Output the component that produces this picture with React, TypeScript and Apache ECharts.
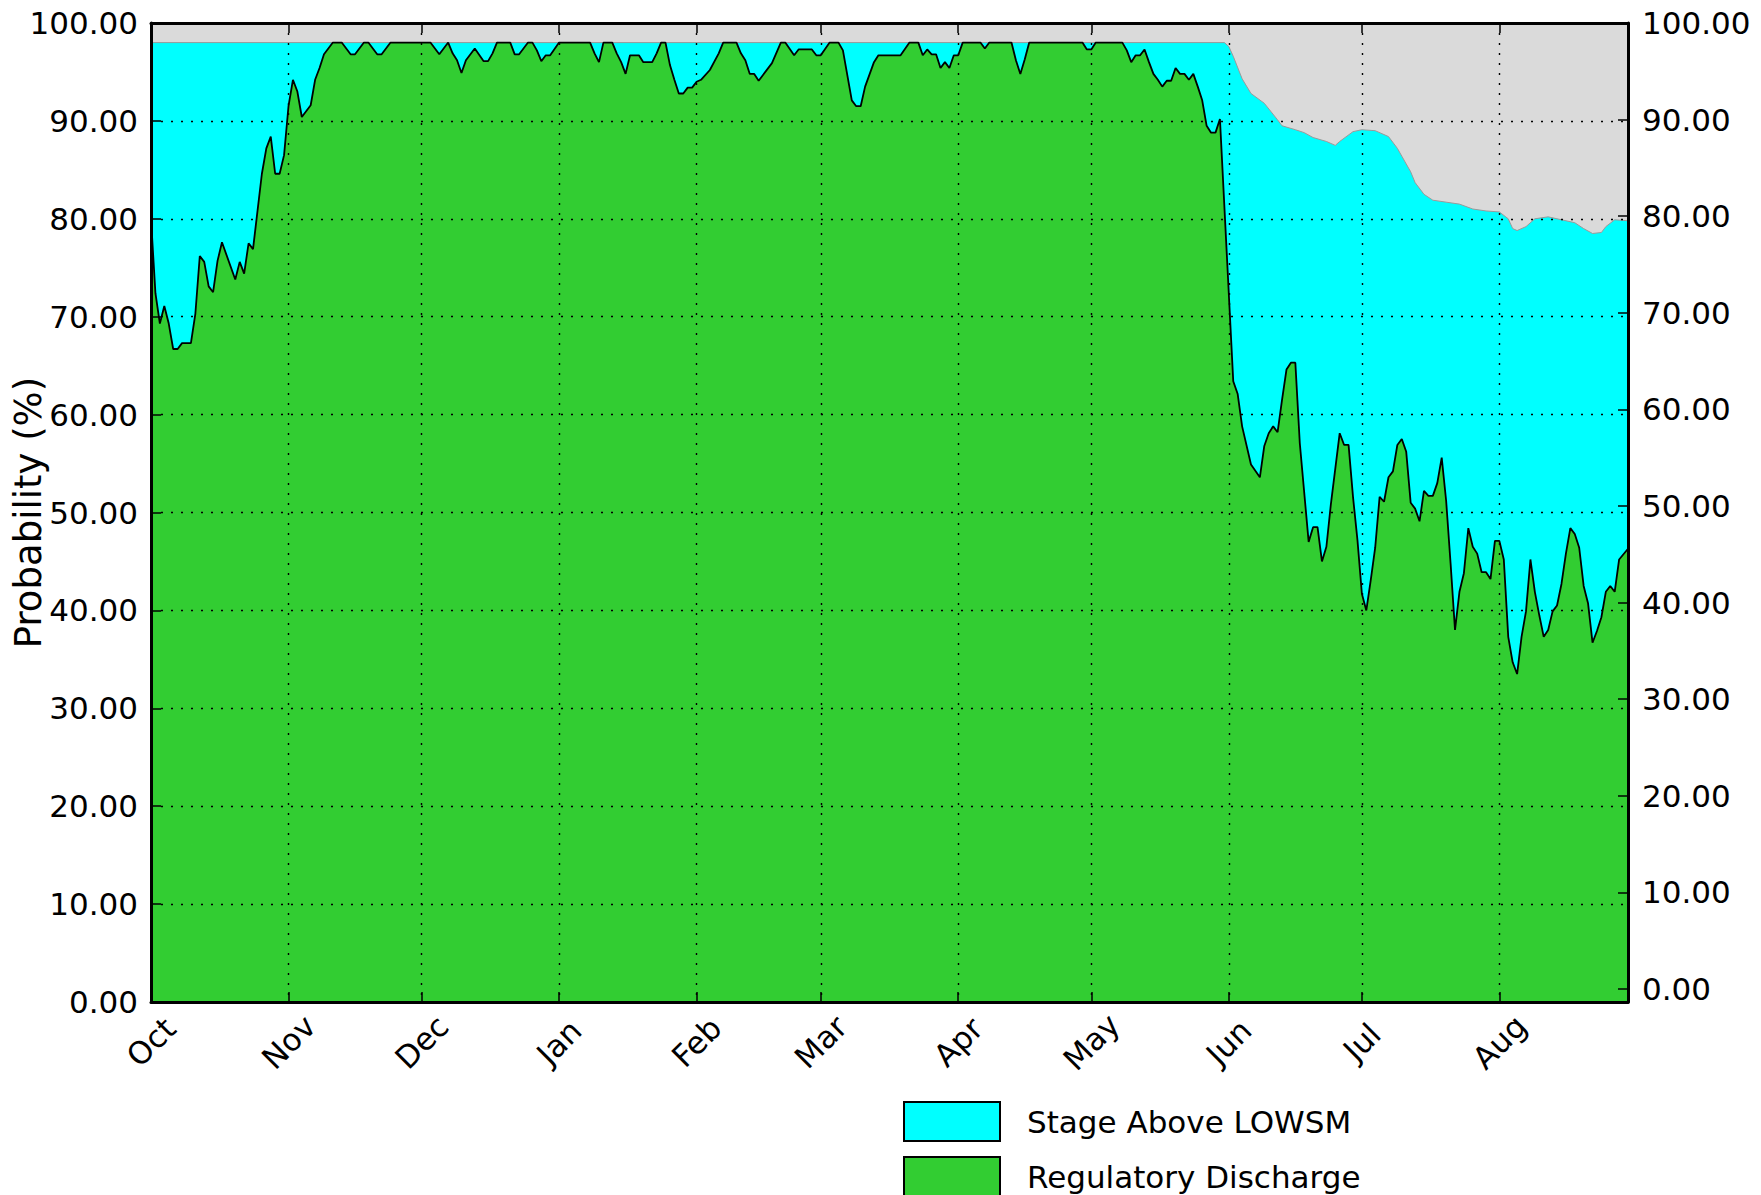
import React, { useEffect, useRef } from 'react';
import * as echarts from 'echarts';

// Month labels on the x axis and their day offsets from Oct 1
const monthLabels = ['Oct', 'Nov', 'Dec', 'Jan', 'Feb', 'Mar', 'Apr', 'May', 'Jun', 'Jul', 'Aug'];
const monthStartDays = [0, 31, 61, 92, 123, 151, 182, 212, 243, 273, 304];
const firstDay = 0;
const lastDay = 333;

// Probability tick values (both y axes)
const probabilityTicks = [0, 10, 20, 30, 40, 50, 60, 70, 80, 90, 100];

// Stage Above LOWSM: [day since Oct 1, probability %]
const stageAboveLowsm: [number, number][] = [
  [0, 98], [242, 98], [243, 97.6], [244, 96.6], [246, 94.3], [248, 92.8], [251, 91.8],
  [254, 90.1], [255, 89.5], [258, 89.1], [260, 88.8], [262, 88.3], [265, 87.9], [267, 87.5],
  [268, 87.9], [271, 88.9], [273, 89.1], [276, 89.0], [279, 88.4], [281, 87.2], [282, 86.4],
  [284, 84.8], [285, 83.7], [287, 82.5], [289, 81.9], [292, 81.7], [295, 81.5], [298, 81.0],
  [301, 80.8], [304, 80.7], [306, 80.0], [307, 79.0], [308, 78.8], [310, 79.2], [312, 80.0],
  [315, 80.2], [318, 79.9], [321, 79.6], [323, 79.0], [325, 78.5], [327, 78.6], [328, 79.2],
  [330, 79.9], [333, 79.8],
];

// Regulatory Discharge: [day since Oct 1, probability %]
const regulatoryDischarge: [number, number][] = [
  [0, 80], [1, 72.4], [2, 69.3], [3, 71.1], [4, 69.3], [5, 66.7], [6, 66.7], [7, 67.3], [9, 67.3],
  [10, 70.3], [11, 76.2], [12, 75.6], [13, 73.1], [14, 72.5], [15, 75.7], [16, 77.6], [19, 73.8],
  [20, 75.6], [21, 74.4], [22, 77.5], [23, 76.9], [25, 84.6], [26, 87.2], [27, 88.4], [28, 84.6],
  [29, 84.6], [30, 86.5], [31, 91.5], [32, 94.2], [33, 93.0], [34, 90.4], [36, 91.6], [37, 94.2],
  [38, 95.4], [39, 96.8], [41, 98], [43, 98], [45, 96.8], [46, 96.8], [48, 98], [49, 98],
  [51, 96.8], [52, 96.8], [54, 98], [63, 98], [65, 96.8], [67, 98], [68, 96.9], [69, 96.2],
  [70, 94.9], [71, 96.2], [73, 97.4], [75, 96.1], [76, 96.1], [77, 96.9], [78, 98], [81, 98],
  [82, 96.8], [83, 96.8], [85, 98], [86, 98], [87, 97.2], [88, 96.1], [89, 96.7], [90, 96.7],
  [92, 98], [99, 98], [100, 96.9], [101, 96.0], [102, 98], [104, 98], [105, 96.9], [106, 96.0],
  [107, 94.8], [108, 96.7], [110, 96.7], [111, 96.0], [113, 96.0], [114, 96.9], [115, 98],
  [116, 98], [117, 95.7], [118, 94.2], [119, 92.8], [120, 92.8], [121, 93.4], [122, 93.4],
  [123, 94.0], [124, 94.2], [126, 95.2], [128, 96.9], [129, 98], [132, 98], [133, 96.9],
  [134, 96.2], [135, 94.8], [136, 94.8], [137, 94.1], [140, 95.9], [142, 98], [143, 98],
  [145, 96.7], [146, 97.3], [149, 97.3], [150, 96.7], [151, 96.7], [153, 98], [155, 98],
  [156, 97.2], [158, 92.1], [159, 91.5], [160, 91.5], [161, 93.5], [163, 96.0], [164, 96.7],
  [169, 96.7], [171, 98], [173, 98], [174, 96.7], [175, 97.3], [176, 96.8], [177, 96.8],
  [178, 95.4], [179, 96.0], [180, 95.4], [181, 96.7], [182, 96.7], [183, 98], [187, 98],
  [188, 97.4], [189, 98], [194, 98], [195, 96.2], [196, 94.8], [197, 96.3], [198, 98],
  [210, 98], [211, 97.3], [212, 97.3], [213, 98], [219, 98], [220, 97.2], [221, 96.0],
  [222, 96.7], [223, 96.7], [224, 97.3], [225, 96.0], [226, 94.8], [227, 94.2], [228, 93.5],
  [229, 94.1], [230, 94.1], [231, 95.4], [232, 94.8], [233, 94.8], [234, 94.2], [235, 94.8],
  [236, 93.5], [237, 92.1], [238, 89.5], [239, 88.8], [240, 88.8], [241, 90.2], [244, 63.4],
  [245, 62.1], [246, 58.8], [248, 54.9], [250, 53.6], [251, 56.8], [252, 58.1], [253, 58.8],
  [254, 58.2], [255, 61.5], [256, 64.6], [257, 65.3], [258, 65.3], [259, 57.1], [261, 47.0],
  [262, 48.5], [263, 48.5], [264, 45.0], [265, 46.5], [266, 50.8], [268, 58.1], [269, 56.9],
  [270, 56.9], [271, 51.6], [272, 47.2], [273, 41.7], [274, 40.0], [275, 43.1], [276, 46.4],
  [277, 51.6], [278, 51.1], [279, 53.6], [280, 54.2], [281, 56.9], [282, 57.5], [283, 56.2],
  [284, 51.0], [285, 50.4], [286, 49.1], [287, 52.2], [288, 51.7], [289, 51.7], [290, 53.0],
  [291, 55.6], [292, 51.2], [293, 44.8], [294, 38.0], [295, 41.9], [296, 43.8], [297, 48.4],
  [298, 46.5], [299, 45.8], [300, 43.9], [301, 43.9], [302, 43.2], [303, 47.1], [304, 47.1],
  [305, 45.2], [306, 37.3], [307, 34.7], [308, 33.5], [309, 37.3], [310, 39.9], [311, 45.2],
  [312, 41.9], [313, 39.5], [314, 37.3], [315, 38.0], [316, 39.9], [317, 40.5], [318, 42.7],
  [319, 45.8], [320, 48.4], [321, 47.8], [322, 46.4], [323, 42.5], [324, 40.7], [325, 36.7],
  [326, 37.9], [327, 39.3], [328, 41.9], [329, 42.5], [330, 41.9], [331, 45.2], [333, 46.3],
];

const FONT = 'DejaVu Sans';
const CYAN = '#00ffff';
const GREEN = '#32cd32';
const GREY_BG = '#dadada';

export default function App() {
  const ref = useRef<HTMLDivElement>(null);

  useEffect(() => {
    if (!ref.current) return;
    const chart = echarts.init(ref.current, null, { renderer: 'svg' });

    const axisLine = { show: true, onZero: false, lineStyle: { color: '#000', width: 3 } };
    const tickStyle = { color: '#000', width: 1.5 };
    const gridLine = { show: true, lineStyle: { color: '#000', width: 1.4, type: [2, 8] } };
    const fmt = (v: number) => Number(v).toFixed(2);

    chart.setOption({
      animation: false,
      textStyle: { fontFamily: FONT },
      grid: {
        left: 151, right: 133, top: 23, bottom: 193,
        containLabel: false,
        outerBoundsMode: 'none',
        show: true, backgroundColor: GREY_BG, borderWidth: 0,
      },
      legend: {
        orient: 'vertical',
        left: 903,
        top: 1101,
        width: 700,
        height: 400,
        padding: 0,
        itemWidth: 96,
        itemHeight: 39,
        itemGap: 14,
        icon: 'rect',
        selectedMode: false,
        textStyle: { fontFamily: FONT, fontSize: 31, color: '#000', padding: [0, 0, 0, 22] },
        data: [
          { name: 'Stage Above LOWSM', icon: 'rect', itemStyle: { color: CYAN, borderColor: '#000', borderWidth: 2 } },
          { name: 'Regulatory Discharge', icon: 'rect', itemStyle: { color: GREEN, borderColor: '#000', borderWidth: 2 } },
        ],
      },
      xAxis: [
        {
          type: 'value', position: 'bottom', min: firstDay, max: lastDay, z: 10,
          axisLine,
          axisTick: { show: true, inside: true, length: 10, customValues: monthStartDays, lineStyle: tickStyle },
          axisLabel: {
            customValues: monthStartDays,
            formatter: (v: number) => monthLabels[monthStartDays.indexOf(Math.round(v))] ?? '',
            rotate: 45, align: 'center', verticalAlign: 'middle', margin: 40,
            fontFamily: FONT, fontSize: 31, color: '#000',
          },
          splitLine: gridLine,
        },
        {
          type: 'value', position: 'top', min: firstDay, max: lastDay, z: 10,
          axisLine,
          axisTick: { show: true, inside: true, length: 10, customValues: monthStartDays, lineStyle: tickStyle },
          axisLabel: { show: false },
          splitLine: { show: false },
        },
      ],
      yAxis: [
        {
          type: 'value', position: 'left', min: 0, max: 100, interval: 10, z: 10,
          axisLine,
          axisTick: { show: true, inside: true, length: 10, lineStyle: tickStyle },
          axisLabel: { formatter: fmt, margin: 13, fontFamily: FONT, fontSize: 31, color: '#000' },
          splitLine: gridLine,
          name: 'Probability (%)',
          nameLocation: 'middle',
          nameGap: 104,
          nameMoveOverlap: false,
          nameTextStyle: { fontFamily: FONT, fontSize: 37, color: '#000' },
        },
        {
          type: 'value', position: 'right', min: -1.35, max: 100, z: 10,
          axisLine,
          axisTick: { show: true, inside: true, length: 10, customValues: probabilityTicks, lineStyle: tickStyle },
          axisLabel: { customValues: probabilityTicks, formatter: fmt, margin: 14, fontFamily: FONT, fontSize: 31, color: '#000' },
          splitLine: { show: false },
        },
      ],
      series: [
        {
          name: 'Stage Above LOWSM',
          type: 'line',
          xAxisIndex: 0, yAxisIndex: 0,
          data: stageAboveLowsm,
          showSymbol: false, symbol: 'none',
          silent: true,
          z: 2,
          itemStyle: { color: CYAN },
          lineStyle: { color: '#9a9a9a', width: 1 },
          areaStyle: { color: CYAN, opacity: 1 },
        },
        {
          name: 'Regulatory Discharge',
          type: 'line',
          xAxisIndex: 0, yAxisIndex: 0,
          data: regulatoryDischarge,
          showSymbol: false, symbol: 'none',
          silent: true,
          z: 3,
          itemStyle: { color: GREEN },
          lineStyle: { color: '#000', width: 1.8 },
          areaStyle: { color: GREEN, opacity: 1 },
        },
      ],
    });

    return () => chart.dispose();
  }, []);

  return (
    <div
      ref={ref}
      style={{ position: 'fixed', left: 0, top: 0, width: 1761, height: 1195, background: '#fff' }}
    />
  );
}
